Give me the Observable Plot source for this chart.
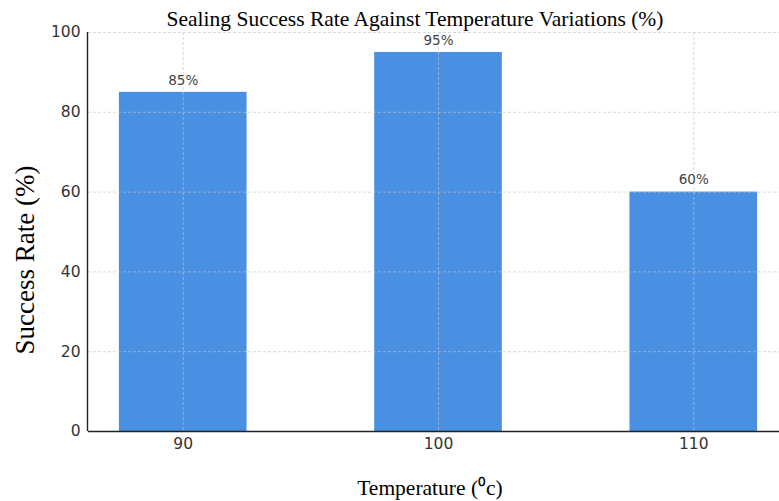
<!DOCTYPE html>
<html>
<head>
<meta charset="utf-8">
<script src="https://cdn.jsdelivr.net/npm/d3@7"></script>
<script src="https://cdn.jsdelivr.net/npm/@observablehq/plot@0.6"></script>
<style>
  html, body { margin: 0; padding: 0; background: #fff; overflow: hidden; }
</style>
</head>
<body>
<div id="chart"></div>
<script>
const temperatures = [90, 100, 110];
const successRates = [85, 95, 60];
const yTicks = [0, 20, 40, 60, 80, 100];
const titleText = "Sealing Success Rate Against Temperature Variations (%)";
const yLabelText = "Success Rate (%)";
const xLabelText = "Temperature (\u2070c)";

const data = temperatures.map((t, i) => ({ t, v: successRates[i], label: successRates[i] + "%" }));
const barHalf = 2.5;
const serif = "'Liberation Serif', 'Times New Roman', serif";

const chart = Plot.plot({
  width: 779,
  height: 501,
  marginLeft: 88,
  marginRight: 0,
  marginTop: 32,
  marginBottom: 70,
  style: { fontFamily: "DejaVu Sans, sans-serif", background: "#fff", color: "#333" },
  x: { type: "linear", domain: [86.25, 113.75], range: [87, 789] },
  y: { domain: [0, 100] },
  marks: [
    Plot.rectY(data, { x1: d => d.t - barHalf, x2: d => d.t + barHalf, y: "v", fill: "#4a90e2" }),
    Plot.ruleY(yTicks, { stroke: "#c4c4c4", strokeDasharray: "3,2", strokeWidth: 0.8, strokeOpacity: 0.8 }),
    Plot.ruleX(temperatures, { stroke: "#c4c4c4", strokeDasharray: "3,2", strokeWidth: 0.8, strokeOpacity: 0.8 }),
    Plot.axisY({ ticks: yTicks, tickSize: 0, tickPadding: 8, fontSize: 15.5, label: null }),
    Plot.axisX({ ticks: temperatures, tickSize: 0, tickPadding: 6, fontSize: 15.5, label: null, tickFormat: d => String(d) }),
    Plot.ruleX([86.25], { stroke: "#222", strokeWidth: 1.4 }),
    Plot.ruleY([0], { stroke: "#222", strokeWidth: 1.4 }),
    Plot.text(data, { x: "t", y: "v", text: "label", dy: -12, fontSize: 13.5, fill: "#444" }),
    Plot.text([titleText], { frameAnchor: "top", lineAnchor: "middle", textAnchor: "middle", dx: -19, dy: -13, fontSize: 21.5, fontFamily: serif, fill: "#000" }),
    Plot.text([yLabelText], { frameAnchor: "left", lineAnchor: "middle", textAnchor: "middle", dx: -63, dy: 28, rotate: -90, fontSize: 27, fontFamily: serif, fill: "#000" }),
    Plot.text([xLabelText], { frameAnchor: "bottom", lineAnchor: "middle", textAnchor: "middle", dx: -4, dy: 57, fontSize: 21.5, fontFamily: serif, fill: "#000" })
  ]
});
document.getElementById("chart").appendChild(chart);
</script>
</body>
</html>
